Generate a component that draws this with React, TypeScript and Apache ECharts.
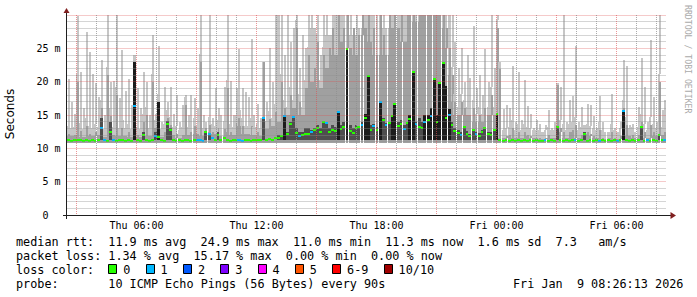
import React, { useEffect, useRef } from 'react';
import * as echarts from 'echarts';

// ---- time layout (hours since Thu 00:00) ----
const START_HOUR = 2.5; // Thu 02:30
const STEP_HOURS = 0.15; // one column = 9 minutes
const X_MIN = 2.5;
const X_MAX = 32.5;

const X_TICKS = [6, 12, 18, 24, 30];
const X_TICK_LABELS = ['Thu 06:00', 'Thu 12:00', 'Thu 18:00', 'Fri 00:00', 'Fri 06:00'];
const Y_TICKS = [0, 5, 10, 15, 20, 25];
const Y_TICK_LABELS = ['0', '5 m', '10 m', '15 m', '20 m', '25 m'];

// ---- smoke data (ms) ----
const SMOKE_MIN = 10.75; // lowest ping level
const MID_MIN = 10.85;
const DARK_MIN = 11.3;

const HI = [
  20.4, 17.0, 15.2, 29.9, 21.5, 16.0, 27.4, 24.5, 21.2, 19.8,
  17.7, 23.2, 15.0, 30.0, 20.0, 20.1, 30.0, 17.5, 24.7, 18.6,
  20.4, 16.5, 24.0, 19.0, 16.0, 21.5, 20.0, 15.0, 27.0, 15.2,
  25.4, 14.0, 19.2, 17.0, 19.2, 15.2, 18.0, 14.0, 16.5, 18.0,
  15.0, 18.0, 17.5, 16.0, 30.0, 15.0, 14.0, 30.0, 14.5, 19.0,
  16.0, 15.0, 19.2, 30.0, 20.1, 15.0, 19.0, 24.9, 19.0, 18.5,
  17.7, 26.4, 15.0, 16.7, 14.5, 22.9, 17.0, 25.1, 20.0, 30.0,
  30, 30, 24, 30, 26, 28, 30, 22, 27, 25,
  30, 30, 28, 30, 24, 30, 30, 27, 30, 30,
  30, 30, 30, 30, 30, 27, 30, 28, 30, 30,
  30, 30, 30, 30, 30, 30, 28, 30, 30, 30,
  30, 30, 30, 30, 30, 30, 30, 30, 30, 30,
  30, 30, 30, 30, 30, 30, 30, 30, 30, 26,
  22, 25, 20, 24, 20.5, 28.4, 19, 21, 18, 24.9,
  20, 30, 22, 30, 23, 15.9, 16.5, 16, 22.4, 14,
  21.5, 14.3, 20.2, 16.3, 15.2, 13.0, 14.3, 13.7, 12.5, 13.5,
  15.7, 13.0, 14.0, 19.8, 19.2, 30.0, 14.0, 17.2, 17.9, 25.4,
  14.0, 16.2, 13.5, 16.7, 16.5, 14.8, 13.0, 17.9, 14.0, 12.5,
  12.5, 18.2, 13.0, 12.5, 14.0, 23.3, 22.4, 13.5, 13.7, 12.5,
  16.2, 23.6, 19.2, 14.0, 26.3, 17.7, 14.0, 30.0, 15.7, 17.2,
];

const MID = [
  12.2, 11.8, 12.0, 20.0, 12.6, 11.7, 13.4, 12.2, 11.9, 12.4,
  12.0, 16.0, 11.7, 21.0, 14.8, 12.0, 18.0, 11.9, 13.0, 11.8,
  12.4, 11.7, 23.0, 12.0, 11.7, 14.0, 15.0, 11.8, 20.0, 13.0,
  17.0, 11.7, 12.4, 14.5, 13.5, 12.0, 12.2, 11.6, 12.0, 16.5,
  12.0, 12.4, 13.4, 12.1, 23.0, 11.8, 13.0, 13.5, 12.5, 12.2,
  13.0, 11.8, 12.9, 19.0, 12.4, 12.0, 13.8, 14.5, 13.4, 12.2,
  12.1, 13.4, 12.0, 12.4, 11.8, 22.9, 12.9, 14.4, 13.4, 15.5,
  14, 20, 16, 15, 18, 16, 28, 17, 15, 19,
  24, 20, 22, 26, 19, 24, 22, 25, 28, 24,
  30, 26, 28, 30, 25, 28, 24, 27, 30, 28,
  30, 26, 28, 24, 30, 27, 24, 30, 28, 30,
  28, 30, 26, 30, 30, 30, 29, 30, 30, 30,
  30, 30, 30, 30, 30, 30, 28, 25, 21, 17,
  15, 17, 16, 15, 15, 16, 14, 15, 14, 16,
  15, 18, 15, 28, 21.9, 11.6, 11.8, 12.0, 13.0, 11.6,
  12.4, 11.6, 12.5, 12.0, 11.8, 11.5, 11.6, 11.5, 11.4, 11.5,
  12.0, 11.5, 11.6, 19.5, 13.0, 12.5, 11.6, 12.4, 12.8, 13.5,
  11.6, 12.0, 12.4, 12.4, 12.2, 11.8, 11.5, 12.8, 11.6, 11.4,
  11.5, 12.5, 11.6, 11.4, 11.8, 16.0, 13.5, 11.8, 12.0, 11.5,
  12.0, 14.0, 12.5, 11.6, 13.5, 12.4, 11.8, 20.0, 12.0, 12.4,
];

const DARK = [
  0, 0, 0, 0, 0, 0, 0, 0, 0, 0,
  0, 14.5, 0, 0, 14.0, 0, 0, 0, 0, 0,
  0, 0, 22.9, 0, 0, 12.5, 0, 0, 0, 12.5,
  16.9, 0, 0, 14.1, 13.0, 0, 0, 0, 0, 0,
  0, 0, 0, 0, 0, 0, 12.6, 12.3, 0, 0,
  12.4, 0, 0, 0, 0, 0, 0, 0, 0, 0,
  0, 0, 0, 0, 0, 14.5, 0, 0, 0, 0,
  12.0, 12.0, 14.9, 12.5, 14.0, 14.7, 13.0, 12.5, 12.4, 13.0,
  13.0, 12.8, 13.0, 13.5, 13.0, 14.0, 13.8, 13.0, 13.5, 13.2,
  15.4, 13.5, 14.0, 24.9, 13.5, 13.0, 13.5, 13.4, 14.0, 15.2,
  20.8, 13.5, 13.6, 13.2, 16.9, 14.5, 13.8, 14.0, 15.0, 16.7,
  14.0, 14.2, 13.5, 14.0, 15.0, 21.4, 14.0, 14.5, 14.0, 15.0,
  15.0, 16.0, 20.4, 15.0, 19.8, 22.8, 19.4, 15.9, 14.0, 13.0,
  12.8, 12.5, 13.4, 12.6, 12.2, 12.8, 12.5, 12.3, 12.8, 13.2,
  12.5, 12.5, 12.8, 15.2, 0, 0, 0, 0, 0, 0,
  0, 0, 0, 0, 0, 0, 0, 0, 0, 0,
  0, 0, 0, 13.2, 0, 0, 0, 0, 0, 0,
  0, 0, 12.4, 0, 0, 0, 0, 0, 0, 0,
  0, 0, 0, 0, 0, 15.6, 0, 0, 0, 0,
  0, 13.4, 0, 0, 0, 0, 0, 12.2, 0, 0,
];

const MEDIAN = [
  11.2, 11.1, 11.2, 11.3, 11.2, 11.1, 11.2, 11.1, 11.2, 11.1,
  11.2, 13.1, 11.2, 11.1, 12.5, 11.2, 11.1, 11.2, 11.3, 11.1,
  11.2, 11.1, 16.4, 11.2, 11.1, 12.0, 11.3, 11.1, 11.2, 11.9,
  11.7, 11.2, 11.1, 13.6, 12.8, 11.2, 11.1, 11.2, 11.1, 11.3,
  11.2, 11.1, 11.2, 11.2, 11.3, 11.1, 12.5, 12.1, 11.5, 11.2,
  12.0, 11.2, 11.5, 11.2, 11.1, 11.2, 11.3, 11.2, 11.1, 11.2,
  11.2, 11.1, 11.2, 11.3, 11.2, 14.5, 11.3, 11.4, 11.3, 11.5,
  11.6, 11.8, 14.9, 12.1, 13.6, 14.7, 12.3, 11.9, 12.0, 12.2,
  12.2, 12.5, 12.7, 13.0, 12.4, 13.9, 13.8, 12.4, 12.8, 12.6,
  15.4, 12.9, 13.2, 24.9, 12.6, 12.3, 13.1, 13.2, 13.5, 14.5,
  20.8, 12.8, 13.3, 12.7, 16.9, 14.3, 13.5, 13.8, 14.8, 16.7,
  13.4, 13.7, 12.9, 13.8, 14.4, 21.4, 13.6, 13.2, 13.0, 13.9,
  14.2, 14.8, 20.4, 14.0, 19.8, 22.8, 14.5, 15.0, 13.5, 12.6,
  12.3, 12.0, 13.2, 12.1, 11.8, 12.8, 12.2, 11.9, 12.5, 13.0,
  12.1, 12.0, 12.7, 15.2, 11.3, 11.1, 11.2, 11.1, 11.2, 11.1,
  11.2, 11.1, 11.2, 11.1, 11.2, 11.1, 11.2, 11.1, 11.1, 11.2,
  11.1, 11.2, 11.1, 13.2, 11.2, 11.1, 11.2, 11.1, 11.2, 11.2,
  11.1, 11.2, 12.2, 11.1, 11.2, 11.1, 11.2, 11.1, 11.2, 11.1,
  11.2, 11.1, 11.2, 11.1, 11.2, 15.6, 11.2, 11.1, 11.2, 11.1,
  11.2, 13.2, 11.1, 11.2, 11.1, 11.2, 11.1, 12.0, 11.2, 11.3,
];

// lost pings out of 10 per column
const LOSS = [
  0, 0, 0, 0, 0, 0, 0, 0, 0, 0,
  0, 1, 1, 0, 0, 1, 0, 0, 0, 0,
  0, 0, 1, 0, 0, 0, 0, 0, 0, 1,
  0, 0, 0, 0, 0, 0, 0, 0, 0, 0,
  0, 0, 0, 1, 1, 1, 0, 1, 1, 0,
  0, 0, 0, 0, 0, 0, 0, 1, 1, 0,
  0, 0, 0, 0, 0, 1, 0, 0, 0, 0,
  0, 0, 1, 0, 0, 1, 0, 1, 0, 0,
  0, 1, 0, 0, 0, 0, 1, 0, 0, 0,
  1, 0, 0, 0, 0, 0, 0, 0, 1, 0,
  0, 0, 1, 0, 1, 0, 1, 0, 0, 0,
  0, 0, 1, 0, 0, 0, 1, 0, 0, 1,
  0, 1, 0, 0, 0, 0, 0, 1, 0, 0,
  0, 1, 0, 0, 0, 0, 1, 0, 0, 0,
  0, 0, 0, 0, 0, 0, 0, 0, 0, 0,
  0, 0, 0, 0, 0, 0, 0, 0, 0, 1,
  0, 0, 0, 0, 0, 0, 0, 0, 0, 1,
  0, 0, 0, 0, 0, 0, 0, 1, 0, 0,
  0, 0, 0, 1, 0, 1, 0, 0, 0, 0,
  0, 0, 0, 1, 0, 0, 0, 0, 0, 1,
];

const LOSS_LABELS = ['0', '1', '2', '3', '4', '5', '6-9', '10/10'];
const LOSS_COLORS = ['#26ff00', '#00b8ff', '#0059ff', '#7e00ff', '#ff00ff', '#ff5500', '#ff0000', '#a00000'];

// ---- legend text ----
const LINE_RTT: [number, string][] = [
  [0, 'median rtt:'], [13, '11.9 ms avg'], [26, '24.9 ms max'], [39, '11.0 ms min'],
  [52, '11.3 ms now'], [65, '1.6 ms sd'], [76, '7.3'], [82, 'am/s'],
];
const LINE_LOSS: [number, string][] = [
  [0, 'packet loss:'], [13, '1.34 % avg'], [25, '15.17 % max'], [38, '0.00 % min'], [50, '0.00 % now'],
];
const LINE_PROBE: [number, string][] = [
  [0, 'probe:'], [13, '10 ICMP Echo Pings (56 Bytes) every 90s'], [70, 'Fri Jan'], [79, '9 08:26:13 2026'],
];
const LOSS_TITLE = 'loss color:';
const WATERMARK = 'RRDTOOL / TOBI OETIKER';
const Y_NAME = 'Seconds';

// ---- styles ----
const MONO = '"DejaVu Sans Mono", monospace';
const SANS = '"DejaVu Sans", sans-serif';
const GRID_C = 'rgba(143,143,143,0.75)';
const MGRID_C = 'rgba(222,79,79,0.6)';
const NONE_C = 'rgba(0,0,0,0)';
const AXIS_C = '#1f1f1f';
const ARROW_C = '#801f1f';
const LIGHT_C = '#c6c6c6';
const MID_C = '#a0a0a0';
const DARK_C = '#4e4e4e';
const BLACK_C = '#1c1c1c';
const CHAR_W = 7.1;
const LEG_X = 16;
const LEG_FS = 11.8;
const SATURATED = 27; // light smoke treated as solid when neighbours reach this
const FILL_ABOVE_MID = 1.2;
const TALL_DARK = 3.5;
const SPIKE_W = 2;

function lossBucket(l: number) {
  if (l <= 5) return l;
  if (l < 10) return 6;
  return 7;
}

function neighbourLevel(arr: number[], i: number) {
  const a = i > 0 ? arr[i - 1] : arr[i];
  const b = i < arr.length - 1 ? arr[i + 1] : arr[i];
  return Math.min(arr[i], a, b);
}

function buildOption() {
  const rows = HI.map((h, i) => {
    const shared = neighbourLevel(HI, i);
    const hiBase = shared >= SATURATED ? shared : Math.min(h, MID[i] + FILL_ABOVE_MID);
    return [START_HOUR + i * STEP_HOURS, h, MID[i], DARK[i], MEDIAN[i], LOSS[i], hiBase, neighbourLevel(MID, i)];
  });

  const graphics: any[] = [];
  graphics.push({
    type: 'text', x: 10, y: 114, rotation: Math.PI / 2, silent: true,
    style: { text: Y_NAME, fontFamily: SANS, fontSize: 12, fill: '#000', align: 'center', verticalAlign: 'middle' },
  });
  graphics.push({
    type: 'text', x: 688, y: 5, rotation: -Math.PI / 2, silent: true,
    style: { text: WATERMARK, fontFamily: MONO, fontSize: 8.2, fill: '#aaaaaa', align: 'left', verticalAlign: 'middle' },
  });
  // axis extensions and arrows
  graphics.push({ type: 'line', silent: true, shape: { x1: 63, y1: 215.5, x2: 67, y2: 215.5 }, style: { stroke: AXIS_C, lineWidth: 1 } });
  graphics.push({ type: 'line', silent: true, shape: { x1: 666, y1: 215.5, x2: 671, y2: 215.5 }, style: { stroke: AXIS_C, lineWidth: 1 } });
  graphics.push({ type: 'line', silent: true, shape: { x1: 66.5, y1: 215, x2: 66.5, y2: 219 }, style: { stroke: AXIS_C, lineWidth: 1 } });
  graphics.push({ type: 'line', silent: true, shape: { x1: 66.5, y1: 16, x2: 66.5, y2: 12 }, style: { stroke: AXIS_C, lineWidth: 1 } });
  graphics.push({ type: 'polygon', silent: true, shape: { points: [[63.5, 13], [69.5, 13], [66.5, 8]] }, style: { fill: ARROW_C } });
  graphics.push({ type: 'polygon', silent: true, shape: { points: [[670.5, 212], [670.5, 219], [676, 215.5]] }, style: { fill: ARROW_C } });

  const addLine = (segs: [number, string][], y: number) => {
    segs.forEach(([col, txt]) => {
      graphics.push({
        type: 'text', x: LEG_X + col * CHAR_W, y, silent: true,
        style: { text: txt, fontFamily: MONO, fontSize: LEG_FS, fill: '#000', align: 'left', verticalAlign: 'middle' },
      });
    });
  };
  addLine(LINE_RTT, 241.5);
  addLine(LINE_LOSS, 255.5);
  addLine([[0, LOSS_TITLE]], 269.5);
  addLine(LINE_PROBE, 283.5);

  let bx = LEG_X + 13 * CHAR_W;
  LOSS_LABELS.forEach((lab, k) => {
    graphics.push({
      type: 'rect', silent: true, shape: { x: Math.round(bx) + 0.5, y: 264.5, width: 8, height: 9 },
      style: { fill: LOSS_COLORS[k], stroke: '#000', lineWidth: 1 },
    });
    graphics.push({
      type: 'text', x: bx + 15, y: 269.5, silent: true,
      style: { text: lab, fontFamily: MONO, fontSize: LEG_FS, fill: '#000', align: 'left', verticalAlign: 'middle' },
    });
    bx += 30.2 + CHAR_W * lab.length;
  });

  return {
    animation: false,
    backgroundColor: '#ffffff',
    grid: { left: 66.5, top: 15, width: 600, height: 200, containLabel: false, outerBoundsMode: 'none' },
    xAxis: {
      type: 'value', min: X_MIN, max: X_MAX, interval: 0.5, z: 5,
      axisLine: { show: true, lineStyle: { color: AXIS_C, width: 1 } },
      axisTick: { show: false },
      axisLabel: {
        fontFamily: MONO, fontSize: 10, color: '#000', margin: 5,
        formatter: (v: number) => {
          const k = X_TICKS.findIndex((t) => Math.abs(t - v) < 1e-6);
          return k >= 0 ? X_TICK_LABELS[k] : '';
        },
      },
      splitLine: { show: true, lineStyle: { color: [NONE_C, MGRID_C, NONE_C, GRID_C, NONE_C, GRID_C], type: [1, 1], width: 1 } },
    },
    yAxis: {
      type: 'value', min: 0, max: 30, interval: 1, z: 5,
      axisLine: { show: true, lineStyle: { color: AXIS_C, width: 1 } },
      axisTick: { show: false },
      axisLabel: {
        fontFamily: MONO, fontSize: 10, color: '#000', margin: 6,
        rich: { z: { fontFamily: MONO, fontSize: 10, color: '#000', padding: [0, 12, 0, 0] } },
        formatter: (v: number) => {
          const k = Y_TICKS.findIndex((t) => Math.abs(t - v) < 1e-6);
          if (k < 0) return '';
          return v === 0 ? '{z|' + Y_TICK_LABELS[k] + '}' : Y_TICK_LABELS[k];
        },
      },
      splitLine: { show: true, lineStyle: { color: [MGRID_C, GRID_C, GRID_C, GRID_C, GRID_C], type: [1, 1], width: 1 } },
    },
    graphic: graphics,
    series: [
      {
        type: 'custom',
        z: 2,
        silent: true,
        clip: true,
        encode: { x: 0, y: 1 },
        data: rows,
        renderItem: (params: any, api: any) => {
          const t = api.value(0);
          const hi = api.value(1);
          const mid = api.value(2);
          const dk = api.value(3);
          const med = api.value(4);
          const loss = api.value(5);
          const hiBase = api.value(6);
          const midBase = api.value(7);
          const xL = Math.round(api.coord([t, 0])[0]);
          const xR = Math.round(api.coord([t + STEP_HOURS, 0])[0]);
          const w = xR - xL;
          const yOf = (v: number) => Math.round(api.coord([t, v])[1]);
          const rect = (x: number, width: number, lo: number, top: number, fill: string) => ({
            type: 'rect',
            shape: { x, y: yOf(top), width, height: yOf(lo) - yOf(top) },
            style: { fill },
          });
          const children: any[] = [];
          // light smoke: full width up to the fill level, thin spike above
          children.push(rect(xL, w, SMOKE_MIN, hiBase, LIGHT_C));
          if (hi > hiBase) children.push(rect(xL + 1, SPIKE_W, hiBase, hi, LIGHT_C));
          // mid smoke
          children.push(rect(xL, w, MID_MIN, midBase, MID_C));
          if (mid > midBase) children.push(rect(xL + 1, SPIKE_W, midBase, mid, MID_C));
          // dark smoke around the median
          if (dk > DARK_MIN) {
            children.push(rect(xL, w, DARK_MIN, dk, dk - DARK_MIN > TALL_DARK ? BLACK_C : DARK_C));
          }
          const ym = yOf(med);
          children.push({
            type: 'rect',
            shape: { x: xL, y: ym - 1, width: w, height: 2 },
            style: { fill: LOSS_COLORS[lossBucket(loss)] },
          });
          return { type: 'group', children };
        },
      },
    ],
  };
}

export default function App() {
  const ref = useRef<HTMLDivElement>(null);
  useEffect(() => {
    if (!ref.current) return;
    const chart = echarts.init(ref.current, undefined, { renderer: 'svg' });
    chart.setOption(buildOption() as any);
    return () => chart.dispose();
  }, []);
  return (
    <div
      ref={ref}
      style={{ position: 'fixed', left: 0, top: 0, width: 697, height: 297, background: '#ffffff' }}
    />
  );
}
